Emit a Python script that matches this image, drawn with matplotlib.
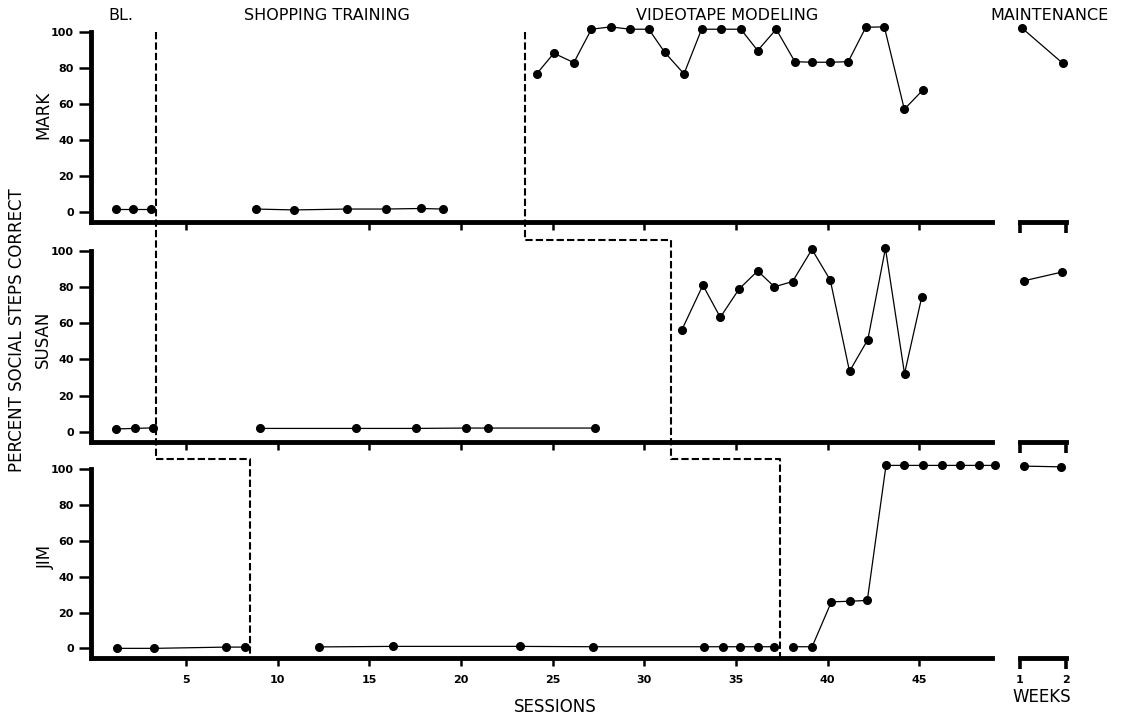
import matplotlib
matplotlib.use("Agg")
import matplotlib.pyplot as plt
from matplotlib.lines import Line2D

# ---------------- data ----------------
session_ticks = [5, 10, 15, 20, 25, 30, 35, 40, 45]
mark_session_ticks = [5, 15, 20, 25, 30, 35, 40, 45]
y_ticks = [0, 20, 40, 60, 80, 100]
week_ticks = [1, 2]

# Mark
mark_bl_x = [1.16, 2.13, 3.1]
mark_bl_y = [1.5, 1.5, 1.5]
mark_st_x = [8.8, 10.9, 13.8, 15.9, 17.8, 19.0]
mark_st_y = [1.5, 1.0, 1.5, 1.5, 1.8, 1.5]
mark_vm_x = [24.13, 25.07, 26.16, 27.12, 28.17, 29.22, 30.25, 31.12, 32.17, 33.13, 34.18,
             35.27, 36.19, 37.2, 38.22, 39.16, 40.15, 41.13, 42.09, 43.1, 44.19, 45.2]
mark_vm_y = [76.8, 88.3, 83.1, 101.7, 103.0, 101.7, 101.7, 88.8, 76.8, 101.7, 101.7,
             101.7, 89.8, 101.7, 83.6, 83.3, 83.3, 83.6, 102.8, 103.0, 57.1, 67.8]
mark_mt_x = [1.05, 1.93]
mark_mt_y = [102.2, 82.7]

# Susan
susan_bl_x = [1.19, 2.22, 3.2]
susan_bl_y = [1.5, 1.8, 2.1]
susan_st_x = [9.03, 14.25, 17.53, 20.3, 21.5, 27.3]
susan_st_y = [1.8, 1.8, 1.8, 2.0, 2.0, 2.0]
susan_vm_x = [32.06, 33.2, 34.15, 35.17, 36.19, 37.1, 38.09, 39.15, 40.15, 41.2, 42.2,
              43.16, 44.2, 45.14]
susan_vm_y = [56.5, 81.1, 63.3, 78.9, 89.0, 80.2, 83.1, 100.9, 83.9, 33.4, 51.0,
              101.5, 32.1, 74.5]
susan_mt_x = [1.08, 1.92]
susan_mt_y = [83.5, 88.4]

# Jim
jim_bl_x = [1.24, 3.27, 7.2, 8.2]
jim_bl_y = [0.0, 0.0, 0.7, 0.7]
jim_st_x = [12.25, 16.27, 23.2, 27.2, 33.27, 34.31, 35.2, 36.18, 37.08]
jim_st_y = [0.8, 1.1, 1.1, 0.9, 0.9, 0.9, 0.9, 0.9, 0.9]
jim_vm_x = [38.12, 39.16, 40.21, 41.23, 42.17, 43.19, 44.18, 45.2, 46.24, 47.24, 48.25, 49.15]
jim_vm_y = [0.9, 0.9, 26.0, 26.3, 26.8, 102.2, 102.2, 102.2, 102.2, 102.2, 102.2, 102.2]
jim_mt_x = [1.09, 1.89]
jim_mt_y = [101.8, 101.4]

# phase-change lines (session positions: Mark, Susan, Jim)
phase1_x = [3.35, 3.35, 8.5]
phase2_x = [23.47, 31.46, 37.42]

phase_labels = ["BL.", "SHOPPING TRAINING", "VIDEOTAPE MODELING", "MAINTENANCE"]
subjects = ["MARK", "SUSAN", "JIM"]

# ---------------- figure ----------------
W, H = 1132, 715
plt.rcParams["font.family"] = ["DejaVu Sans"]
fig = plt.figure(figsize=(W / 100, H / 100), dpi=100)

XLIM = (-0.6, 49.3)
YLIM = (-5.5, 106)
px_left, px_right = 83.3, 998.0
rows_px = [(221.6, 21.5), (441.6, 240.2), (658.2, 458.6)]  # (bottom, top) pixel
m_left, m_right = 1001.6, 1084.4


def frac_rect(l, r, b, t):
    return [l / W, 1 - b / H, (r - l) / W, (b - t) / H]


LW_SPINE = 3.5
TICK_FS = 8
main_axes, maint_axes = [], []
for i, (b, t) in enumerate(rows_px):
    ax = fig.add_axes(frac_rect(px_left, px_right, b, t))
    ax.set_xlim(*XLIM)
    ax.set_ylim(*YLIM)
    for s in ("top", "right"):
        ax.spines[s].set_visible(False)
    ax.spines["left"].set_position(("data", -0.2))
    ax.spines["left"].set_bounds(YLIM[0], 100)
    ax.spines["bottom"].set_bounds(-0.2, 48.96)
    for s in ("left", "bottom"):
        ax.spines[s].set_linewidth(LW_SPINE)
    ax.set_yticks(y_ticks)
    ax.set_yticklabels([str(v) for v in y_ticks], fontsize=TICK_FS, fontweight="bold")
    ax.tick_params(axis="y", direction="out", length=9, width=1.8, pad=3)
    ax.set_xticks(mark_session_ticks if i == 0 else session_ticks)
    ax.tick_params(axis="x", direction="out", length=6, width=1.8, pad=6)
    if i < 2:
        ax.set_xticklabels([])
    else:
        ax.set_xticklabels([str(v) for v in session_ticks], fontsize=TICK_FS, fontweight="bold")
    ax.patch.set_alpha(0)
    main_axes.append(ax)

    axm = fig.add_axes(frac_rect(m_left, m_right, b, t))
    axm.set_xlim(0.6, 2.4)
    axm.set_ylim(*YLIM)
    for s in ("top", "right", "left"):
        axm.spines[s].set_visible(False)
    axm.spines["bottom"].set_bounds(1, 2)
    axm.spines["bottom"].set_linewidth(LW_SPINE)
    axm.set_yticks([])
    axm.set_xticks(week_ticks)
    axm.tick_params(axis="x", direction="out", length=8, width=2.6, pad=4)
    if i < 2:
        axm.set_xticklabels([])
    else:
        axm.set_xticklabels([str(v) for v in week_ticks], fontsize=TICK_FS, fontweight="bold")
    axm.patch.set_alpha(0)
    maint_axes.append(axm)

style = dict(color="black", lw=0.9, marker="o", ms=5.5, clip_on=False, zorder=3)

series = [
    [(mark_bl_x, mark_bl_y), (mark_st_x, mark_st_y), (mark_vm_x, mark_vm_y)],
    [(susan_bl_x, susan_bl_y), (susan_st_x, susan_st_y), (susan_vm_x, susan_vm_y)],
    [(jim_bl_x, jim_bl_y), (jim_st_x, jim_st_y), (jim_vm_x, jim_vm_y)],
]
maint = [(mark_mt_x, mark_mt_y), (susan_mt_x, susan_mt_y), (jim_mt_x, jim_mt_y)]

for ax, segs in zip(main_axes, series):
    for x, y in segs:
        ax.plot(x, y, **style)
for axm, (x, y) in zip(maint_axes, maint):
    axm.plot(x, y, **style)


# ---------------- phase-change staircases ----------------
def staircase(xs):
    a0, a1, a2 = main_axes
    top = YLIM[1]
    pts = [
        (a0, xs[0], 100),
        (a1, xs[0], top),
        (a1, xs[1], top),
        (a2, xs[1], top),
        (a2, xs[2], top),
        (a2, xs[2], YLIM[0]),
    ]
    inv = fig.transFigure.inverted()
    fx, fy = [], []
    for ax, x, y in pts:
        d = ax.transData.transform((x, y))
        f = inv.transform(d)
        fx.append(f[0])
        fy.append(f[1])
    fig.add_artist(Line2D(fx, fy, transform=fig.transFigure, color="black",
                          lw=1.5, dashes=(3.5, 1.5), zorder=2))


staircase(phase1_x)
staircase(phase2_x)

# ---------------- text ----------------
title_kw = dict(fontsize=11.5, ha="center", va="center")
fig.text(121 / W, 1 - 15 / H, phase_labels[0], **title_kw)
fig.text(327 / W, 1 - 15 / H, phase_labels[1], **title_kw)
fig.text(727 / W, 1 - 15 / H, phase_labels[2], **title_kw)
fig.text(1050 / W, 1 - 15 / H, phase_labels[3], **title_kw)

lab_kw = dict(rotation=90, fontsize=12, ha="center", va="center")
fig.text(17 / W, 1 - 330 / H, "PERCENT SOCIAL STEPS CORRECT", **lab_kw)
fig.text(43 / W, 1 - 115 / H, subjects[0], **lab_kw)
fig.text(43 / W, 1 - 339 / H, subjects[1], **lab_kw)
fig.text(46 / W, 1 - 557 / H, subjects[2], **lab_kw)

fig.text(555 / W, 1 - 707 / H, "SESSIONS", fontsize=12, ha="center", va="center")
fig.text(1042 / W, 1 - 697 / H, "WEEKS", fontsize=12, ha="center", va="center")

fig.savefig("out.png", dpi=100)
